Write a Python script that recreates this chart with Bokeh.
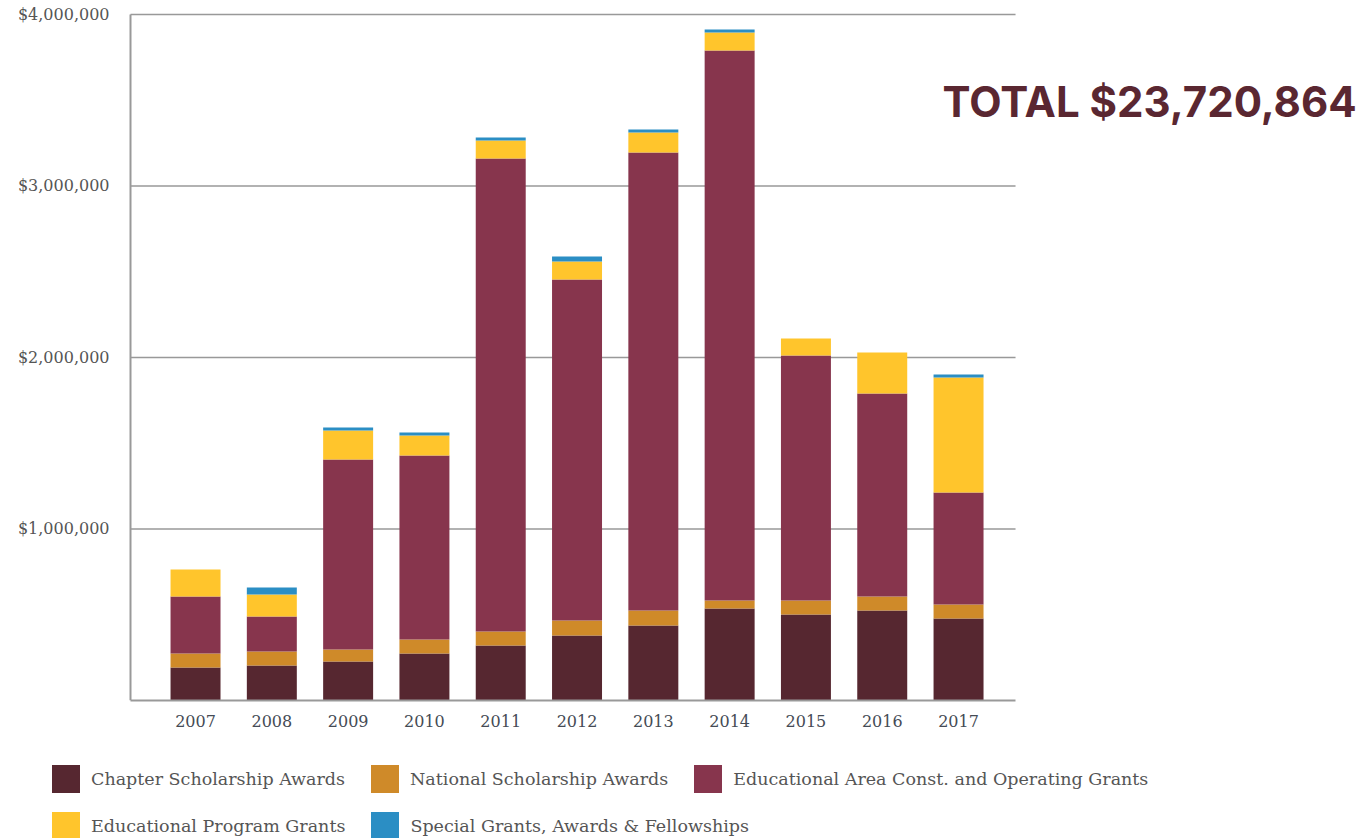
from bokeh.plotting import figure
from bokeh.models import (ColumnDataSource, Range1d, FixedTicker, NumeralTickFormatter,
                          Legend, LegendItem, Label)
from bokeh.layouts import column
from bokeh.embed import file_html
from bokeh.resources import INLINE

years = [2007, 2008, 2009, 2010, 2011, 2012, 2013, 2014, 2015, 2016, 2017]
chapter = [192000, 204000, 227000, 274000, 321000, 379000, 437000, 536000, 501000, 525000, 478000]
national = [82000, 82000, 70000, 82000, 81000, 87000, 88000, 47000, 82000, 81000, 82000]
edu_area = [332000, 204000, 1108000, 1073000, 2758000, 1989000, 2670000, 3207000, 1429000, 1184000, 653000]
program = [158000, 128000, 169000, 116000, 105000, 105000, 117000, 105000, 99000, 239000, 670000]
special = [0, 41000, 18000, 18000, 18000, 29000, 17000, 18000, 0, 0, 18000]

series = ["chapter", "national", "edu_area", "program", "special"]
names = ["Chapter Scholarship Awards", "National Scholarship Awards",
         "Educational Area Const. and Operating Grants", "Educational Program Grants",
         "Special Grants, Awards & Fellowships"]
colors = ["#562730", "#cf8a29", "#87354d", "#ffc52c", "#2b8ec4"]
y_ticks = [1000000, 2000000, 3000000, 4000000]
total_text = "TOTAL $23,720,864"

X_START, X_END = 2006.148, 2017.747   # extent of the axis / gridlines
Y_MAX = 4000000

source = ColumnDataSource(dict(year=years, chapter=chapter, national=national,
                               edu_area=edu_area, program=program, special=special))

p = figure(width=1360, height=745, output_backend="svg", toolbar_location=None,
           x_range=Range1d(2004.444, 2022.268), y_range=Range1d(0, 4081600),
           min_border_left=0, min_border_right=0, min_border_top=0, min_border_bottom=45)
p.outline_line_color = None

# horizontal gridlines limited to the chart's extent
grid_src = ColumnDataSource(dict(x0=[X_START] * len(y_ticks), x1=[X_END] * len(y_ticks),
                                 y=y_ticks))
p.segment(x0="x0", x1="x1", y0="y", y1="y", source=grid_src, line_color="#999999",
          line_width=1.5, level="underlay")

renderers = p.vbar_stack(series, x="year", width=0.655, color=colors, source=source,
                         line_color=None)

# axes
p.xaxis.ticker = FixedTicker(ticks=years)
p.xaxis.bounds = (X_START, X_END)
p.xaxis.major_tick_line_color = None
p.xaxis.minor_tick_line_color = None
p.xaxis.axis_line_color = "#999999"
p.xaxis.axis_line_width = 2
p.xaxis.major_label_text_font = "DejaVu Serif"
p.xaxis.major_label_text_font_size = "16px"
p.xaxis.major_label_text_color = "#454b55"
p.xaxis.major_label_standoff = 8

p.yaxis.fixed_location = X_START
p.yaxis.bounds = (0, Y_MAX)
p.yaxis.ticker = FixedTicker(ticks=y_ticks)
p.yaxis.formatter = NumeralTickFormatter(format="$0,0")
p.yaxis.major_tick_line_color = None
p.yaxis.minor_tick_line_color = None
p.yaxis.axis_line_color = "#999999"
p.yaxis.axis_line_width = 2
p.yaxis.major_label_text_font = "DejaVu Serif"
p.yaxis.major_label_text_font_size = "16px"
p.yaxis.major_label_text_color = "#555555"
p.yaxis.major_label_standoff = 15

p.xgrid.visible = False
p.ygrid.visible = False

p.add_layout(Label(x=2016.79, y=3490000, text=total_text, text_font="Inter",
                   text_font_style="bold", text_font_size="42px", text_color="#5a2731",
                   text_baseline="middle", text_align="left"))

# legend figure below the chart
lf = figure(width=1360, height=93, output_backend="svg", toolbar_location=None,
            x_range=Range1d(0, 1), y_range=Range1d(0, 1),
            x_axis_location=None, y_axis_location=None,
            min_border_left=0, min_border_right=0, min_border_top=0, min_border_bottom=0)
lf.outline_line_color = None
lf.grid.visible = False
leg_renderers = lf.vbar_stack(series, x="year", width=0.655, color=colors, source=source,
                              line_color=None)

def make_legend(idx, loc):
    items = [LegendItem(label=names[i], renderers=[leg_renderers[i]]) for i in idx]
    return Legend(items=items, location=loc, orientation="horizontal",
                  glyph_width=35, glyph_height=35, label_standoff=8,
                  spacing=22, padding=0, margin=0,
                  border_line_color=None, background_fill_alpha=0,
                  label_text_font="DejaVu Serif", label_text_font_size="17.5px",
                  label_text_color="#555555")

lf.add_layout(make_legend([0, 1, 2], (48, 42)), "center")
lf.add_layout(make_legend([3, 4], (48, -5)), "center")

layout = column(p, lf, spacing=0)
open("out.html", "w").write(file_html(layout, INLINE))
